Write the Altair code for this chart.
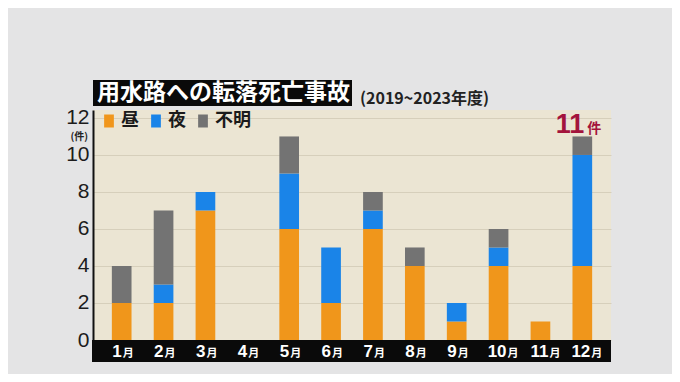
import altair as alt
import pandas as pd

# ---- data ----
months = ["1月", "2月", "3月", "4月", "5月", "6月", "7月", "8月", "9月", "10月", "11月", "12月"]
month_nums = ["1", "2", "3", "4", "5", "6", "7", "8", "9", "10", "11", "12"]
series = ["昼", "夜", "不明"]
day = [2, 2, 7, 0, 6, 2, 6, 4, 1, 4, 1, 4]
night = [0, 1, 1, 0, 3, 3, 1, 0, 1, 1, 0, 6]
unknown = [2, 4, 0, 0, 2, 0, 1, 1, 0, 1, 0, 1]
y_ticks = [0, 2, 4, 6, 8, 10, 12]
title_text = "用水路への転落死亡事故"
subtitle_text = "(2019~2023年度)"
colors = ["#f0961b", "#1a84e8", "#737373"]

rows = []
for i, m in enumerate(months):
    for k, (s, vals) in enumerate(zip(series, [day, night, unknown])):
        rows.append({"month": m, "series": s, "order": k, "value": vals[i]})
df = pd.DataFrame(rows)

totals = pd.DataFrame({
    "month": months,
    "num": month_nums,
    "total": [d + n + u for d, n, u in zip(day, night, unknown)],
})

W, H = 518, 230
xscale = alt.Scale(domain=months, paddingInner=0.53, paddingOuter=0.45)
yscale = alt.Scale(domain=[0, 12.43], nice=False, zero=True)
X = alt.X("month:N", scale=xscale, sort=months, axis=None)
yaxis = alt.Axis(values=y_ticks, tickCount=7, grid=True, gridColor="#d6cfbb", gridWidth=1,
                 domainColor="#111111", domainWidth=2, ticks=False,
                 labelFontSize=21, labelFont="Liberation Sans", labelColor="#1c1c1c",
                 labelPadding=4, labelOverlap=False, labelFlush=False, title=None)

legend_symbol = "M-0.75,-1L0.75,-1L0.75,1L-0.75,1Z"

bars = alt.Chart(df).mark_bar().encode(
    x=X,
    y=alt.Y("value:Q", stack="zero", scale=yscale, title=None, axis=yaxis),
    color=alt.Color(
        "series:N", scale=alt.Scale(domain=series, range=colors),
        legend=alt.Legend(orient="none", legendX=7, legendY=2, direction="horizontal",
                          title=None, symbolType=legend_symbol, symbolSize=169,
                          symbolStrokeWidth=0, symbolOpacity=1,
                          labelFontSize=18, labelFont="Noto Sans CJK JP",
                          labelFontWeight="bold", labelColor="#1a1a1a",
                          labelOffset=3, columnPadding=8),
    ),
    order=alt.Order("order:Q", sort="ascending"),
)

band = alt.Chart(totals).mark_rect(color="#0a0a0a").encode(
    x=alt.value(-1), x2=alt.value(W), y=alt.value(H), y2=alt.value(H + 22)
)

base_lbl = alt.Chart(totals)
num1 = base_lbl.transform_filter("length(datum.num) == 1").mark_text(
    align="right", baseline="alphabetic", dx=0, fontSize=17, font="Liberation Sans",
    fontWeight="bold", color="white"
).encode(x=X, y=alt.value(H + 17), text="num:N")
tsuki1 = base_lbl.transform_filter("length(datum.num) == 1").mark_text(
    align="left", baseline="alphabetic", dx=1, fontSize=11, font="Noto Sans CJK JP",
    fontWeight="bold", color="white"
).encode(x=X, y=alt.value(H + 17), text=alt.value("月"))
num2 = base_lbl.transform_filter("length(datum.num) == 2").mark_text(
    align="right", baseline="alphabetic", dx=8, fontSize=17, font="Liberation Sans",
    fontWeight="bold", color="white"
).encode(x=X, y=alt.value(H + 17), text="num:N")
tsuki2 = base_lbl.transform_filter("length(datum.num) == 2").mark_text(
    align="left", baseline="alphabetic", dx=9, fontSize=11, font="Noto Sans CJK JP",
    fontWeight="bold", color="white"
).encode(x=X, y=alt.value(H + 17), text=alt.value("月"))

last = alt.Chart(totals).transform_filter("datum.month == '12月'")
total_num = last.mark_text(
    align="right", baseline="alphabetic", dx=2, dy=-3, fontSize=27,
    font="Liberation Sans Narrow, Liberation Sans", fontWeight="bold", color="#a3143c"
).encode(x=X, y=alt.Y("total:Q", scale=yscale, axis=yaxis), text="total:Q")
ken = last.mark_text(
    align="left", baseline="alphabetic", dx=5, dy=-3, fontSize=14,
    font="Noto Sans CJK JP", fontWeight="bold", color="#a3143c"
).encode(x=X, y=alt.Y("total:Q", scale=yscale, axis=yaxis), text=alt.value("件"))

tdf = pd.DataFrame({"t": [title_text], "s": [subtitle_text]})
title_rect = alt.Chart(tdf).mark_rect(color="#0a0a0a").encode(
    x=alt.value(0), x2=alt.value(259), y=alt.value(-30), y2=alt.value(-4)
)
title = alt.Chart(tdf).mark_text(
    align="left", baseline="middle", fontSize=23, font="Noto Sans CJK JP",
    fontWeight="bold", color="white"
).encode(x=alt.value(4), y=alt.value(-17), text="t:N")
subtitle = alt.Chart(tdf).mark_text(
    align="left", baseline="middle", fontSize=16, font="Noto Sans CJK JP",
    fontWeight="bold", color="#222222"
).encode(x=alt.value(267), y=alt.value(-11), text="s:N")
unit = alt.Chart(tdf).mark_text(
    align="right", baseline="middle", fontSize=10, font="Noto Sans CJK JP",
    fontWeight="bold", color="#222222"
).encode(x=alt.value(-5), y=alt.value(27), text=alt.value("(件)"))

chart = alt.layer(
    bars, band, num1, tsuki1, num2, tsuki2, total_num, ken, title_rect, title, subtitle, unit
).resolve_scale(y="shared").properties(
    width=W, height=H,
    padding={"left": 85, "top": 102, "right": 61, "bottom": 34},
    autosize="none",
    background="#e4e4e5",
).configure_view(stroke=None, fill="#ebe5d3")

chart.save("out.html", embed_options={"renderer": "svg", "actions": False})
